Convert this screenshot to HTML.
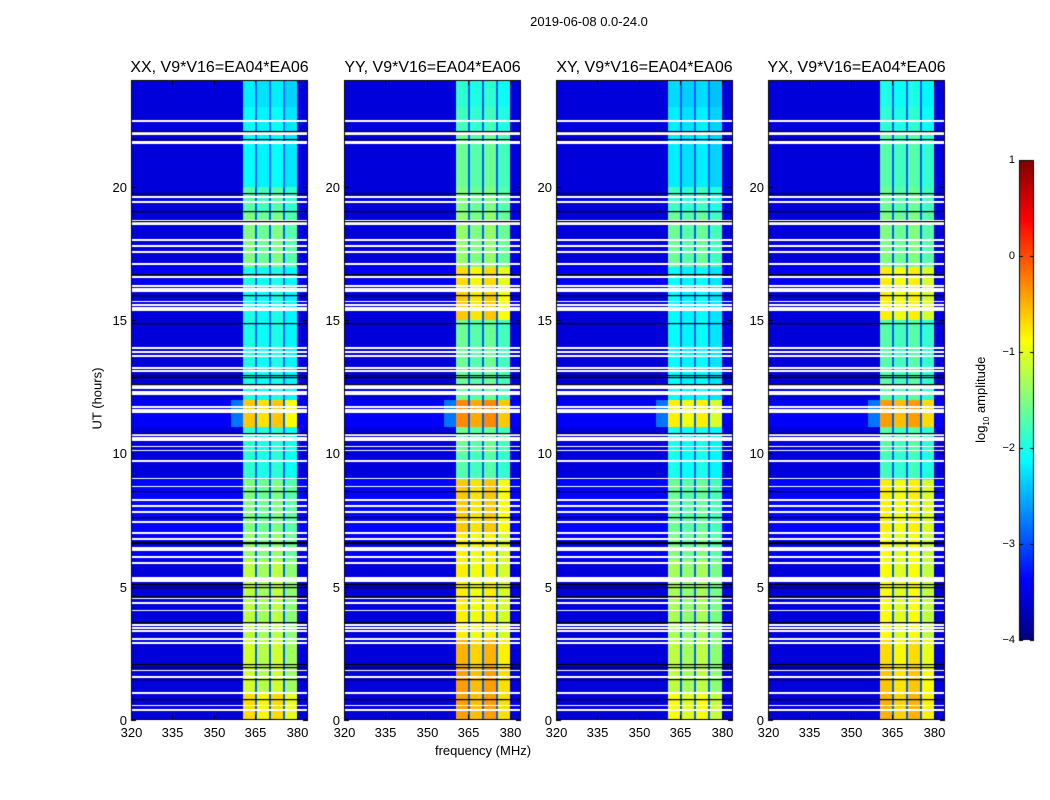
<!DOCTYPE html>
<html><head><meta charset="utf-8"><style>
body{margin:0;background:#fff;width:1050px;height:800px;position:relative;overflow:hidden;font-family:"Liberation Sans","DejaVu Sans",sans-serif;}
.t{position:absolute;white-space:nowrap;color:#000;}
canvas{position:absolute;}
</style></head><body>
<div class="t" style="left:489px;top:14px;font-size:13px;width:200px;text-align:center">2019-06-08 0.0-24.0</div>
<div class="t" style="left:383px;top:743px;font-size:13px;width:200px;text-align:center">frequency (MHz)</div>
<div class="t" style="left:47px;top:391px;font-size:13px;width:100px;text-align:center;transform:rotate(-90deg)">UT (hours)</div>
<div class="t" style="left:922px;top:391px;font-size:13px;width:120px;text-align:center;transform:rotate(-90deg)">log<sub style="font-size:8px">10</sub> amplitude</div>
<canvas id="c" width="1050" height="800" style="left:0;top:0"></canvas>
<div id="labels"></div>
<script>
// ---- data ----
const panelTitles = ["XX, V9*V16=EA04*EA06","YY, V9*V16=EA04*EA06","XY, V9*V16=EA04*EA06","YX, V9*V16=EA04*EA06"];
const xTicks = [320,335,350,365,380];
const yTicks = [0,5,10,15,20];
const cbTicks = [1,0,-1,-2,-3,-4];
// band level (log10 amp) per hour 0..23, per polarisation
const bandXX = [-0.7,-1.1,-1.1,-1.2,-1.2,-1.2,-1.4,-1.5,-1.5,-1.9,-1.9,-0.6,-2.0,-2.0,-2.0,-2.0,-2.0,-1.5,-1.5,-1.7,-2.1,-2.1,-2.1,-2.2];
const bandYY = [-0.4,-0.4,-0.5,-0.8,-0.8,-0.8,-0.8,-0.6,-0.6,-1.7,-1.6,-0.3,-1.6,-1.6,-1.6,-0.6,-0.7,-1.4,-1.4,-1.5,-1.6,-1.6,-1.8,-1.9];
const bandXY = [-0.9,-1.2,-1.2,-1.3,-1.3,-1.3,-1.5,-1.6,-1.6,-2.0,-2.0,-0.8,-2.1,-2.1,-2.1,-2.1,-2.1,-1.6,-1.6,-1.8,-2.2,-2.2,-2.2,-2.3];
const bandYX = [-0.5,-0.6,-0.7,-0.9,-0.9,-0.9,-0.9,-0.8,-0.8,-1.8,-1.7,-0.4,-1.7,-1.7,-1.7,-0.8,-0.8,-1.5,-1.5,-1.6,-1.7,-1.7,-1.9,-2.0];
const bandLevels = [bandXX,bandYY,bandXY,bandYX];
// background level per hour
const bgLevel = [-3.55,-3.55,-3.55,-3.55,-3.55,-3.55,-3.45,-3.35,-3.35,-3.55,-3.55,-3.4,-3.55,-3.55,-3.55,-3.55,-3.45,-3.55,-3.55,-3.55,-3.55,-3.55,-3.55,-3.55];
// sub-band edges (MHz)
const subStart = [360.5,365.6,370.6,375.7];
const subEnd   = [364.9,369.9,375.0,380.0];
const subGain  = [1.0,0.95,1.0,0.9];
const gapLevel = -2.9;
// flagged (white) intervals in hours
const flagStart = [22.42,21.94,21.6,19.57,19.37,18.58,17.96,17.75,17.5,17.07,16.57,16.24,16.14,16.05,15.66,15.53,15.43,15.33,13.91,13.76,13.62,13.18,13.06,12.49,12.41,12.17,11.69,11.52,10.66,10.45,10.22,10.07,9.68,9.02,8.72,8.22,7.99,7.77,7.39,6.97,6.74,6.35,6.08,5.84,5.19,4.52,4.34,4.07,3.53,3.41,3.31,2.99,2.84,1.82,1.59,0.97,0.51,0.34];
const flagEnd   = [22.50,22.08,21.70,19.65,19.45,18.75,18.03,17.82,17.58,17.14,16.64,16.31,16.21,16.12,15.73,15.60,15.50,15.40,13.98,13.83,13.69,13.25,13.13,12.56,12.48,12.33,11.76,11.66,10.73,10.60,10.29,10.14,9.75,9.09,8.79,8.29,8.06,7.84,7.46,7.04,6.81,6.50,6.15,5.91,5.35,4.59,4.41,4.14,3.60,3.48,3.38,3.06,2.91,1.89,1.66,1.04,0.58,0.41];
// black separator lines (hours)
const blackLines = [22.1,21.8,19.75,19.07,18.7,16.71,15.94,14.87,12.94,12.87,12.6,10.77,8.6,7.6,6.66,6.62,5.1,4.98,4.66,3.69,2.09,2.0,1.52,0.77];

// ---- layout ----
const panelLeft=[131,344,556,768], panelW=177, plotTop=80, plotBottom=720;
const fMin=320, fMax=384, tMin=0, tMax=24;
const xs=(i,f)=>panelLeft[i]+(f-fMin)/(fMax-fMin)*panelW;
const ys=t=>plotBottom-(t-tMin)/(tMax-tMin)*(plotBottom-plotTop);
const vMin=-4,vMax=1;
function jet(v){let x=(v-vMin)/(vMax-vMin);x=Math.max(0,Math.min(1,x));
 const c=a=>Math.round(255*Math.max(0,Math.min(1,1.5-Math.abs(4*x-a))));
 return [c(3),c(2),c(1)];}
const ctx=document.getElementById('c').getContext('2d');
function value(p,f,t){
 const h=Math.min(23,Math.max(0,Math.floor(t)));
 const bg=bgLevel[h], b=bandLevels[p][h];
 for(let k=0;k<subStart.length;k++){
  if(f>=subStart[k]&&f<subEnd[k]) return bg+(b-bg)*subGain[k];
 }
 if(f>=subStart[0]&&f<subEnd[subEnd.length-1]) return gapLevel;
 if(f>=356&&f<subStart[0]&&h==11) return -2.8;
 return bg;
}
const labels=document.getElementById('labels');
function addText(txt,l,t,w,fs,align,name){
 const d=document.createElement('div');d.className='t';
 
 
 d.style.cssText=`left:${l}px;top:${t}px;width:${w}px;font-size:${fs}px;text-align:${align}`;
 d.textContent=txt;labels.appendChild(d);}
for(let p=0;p<4;p++){
 const L=panelLeft[p];
 const H=plotBottom-plotTop;
 const img=ctx.createImageData(panelW,H);
 for(let py=0;py<H;py++){
  const t=tMax-(py+0.5)/H*(tMax-tMin);
  let flagged=false;
  for(let k=0;k<flagStart.length;k++) if(t>=flagStart[k]&&t<flagEnd[k]){flagged=true;break;}
  for(let px=0;px<panelW;px++){
   const f=fMin+(px+0.5)/panelW*(fMax-fMin);
   const o=(py*panelW+px)*4;
   const c=flagged?[255,255,255]:jet(value(p,f,t));
   img.data[o]=c[0];img.data[o+1]=c[1];img.data[o+2]=c[2];img.data[o+3]=255;
  }
 }
 ctx.putImageData(img,L,plotTop);
 ctx.fillStyle='#000';
 blackLines.forEach(h=>ctx.fillRect(L,Math.round(ys(h)),panelW,1.2));
 ctx.strokeStyle='#000';ctx.lineWidth=1;
 ctx.strokeRect(L+0.5,plotTop+0.5,panelW-1,H-1);
 xTicks.forEach(v=>{const x=Math.round(xs(p,v))+0.5;ctx.beginPath();ctx.moveTo(x,plotBottom);ctx.lineTo(x,plotBottom-5);ctx.moveTo(x,plotTop);ctx.lineTo(x,plotTop+5);ctx.stroke();
  addText(String(v),x-20,plotBottom+5,40,13,'center','x-tick-label');});
 yTicks.forEach(v=>{const y=Math.round(ys(v))+0.5;ctx.beginPath();ctx.moveTo(L,y);ctx.lineTo(L+5,y);ctx.moveTo(L+panelW,y);ctx.lineTo(L+panelW-5,y);ctx.stroke();
  addText(String(v),L-44,y-8,40,13,'right','y-tick-label');});
 addText(panelTitles[p],L-30,59,panelW+60,16,'center','panel-title');
}
// colorbar
const cbL=1019,cbW=15,cbT=160,cbB=640;
for(let y=cbT;y<cbB;y++){const v=vMax-(y-cbT+0.5)/(cbB-cbT)*(vMax-vMin);const c=jet(v);ctx.fillStyle=`rgb(${c[0]},${c[1]},${c[2]})`;ctx.fillRect(cbL,y,cbW,1);}
ctx.strokeStyle='#000';ctx.strokeRect(cbL+0.5,cbT+0.5,cbW-1,cbB-cbT-1);
cbTicks.forEach(v=>{const y=Math.round(cbB-(v-vMin)/(vMax-vMin)*(cbB-cbT))+0.5;
 ctx.beginPath();ctx.moveTo(cbL,y);ctx.lineTo(cbL+4,y);ctx.moveTo(cbL+cbW,y);ctx.lineTo(cbL+cbW-4,y);ctx.stroke();
 addText(v<0?'\u2212'+(-v):String(v),cbL-34,y-7,30,11,'right','colorbar-tick-label');});
</script>
</body></html>
